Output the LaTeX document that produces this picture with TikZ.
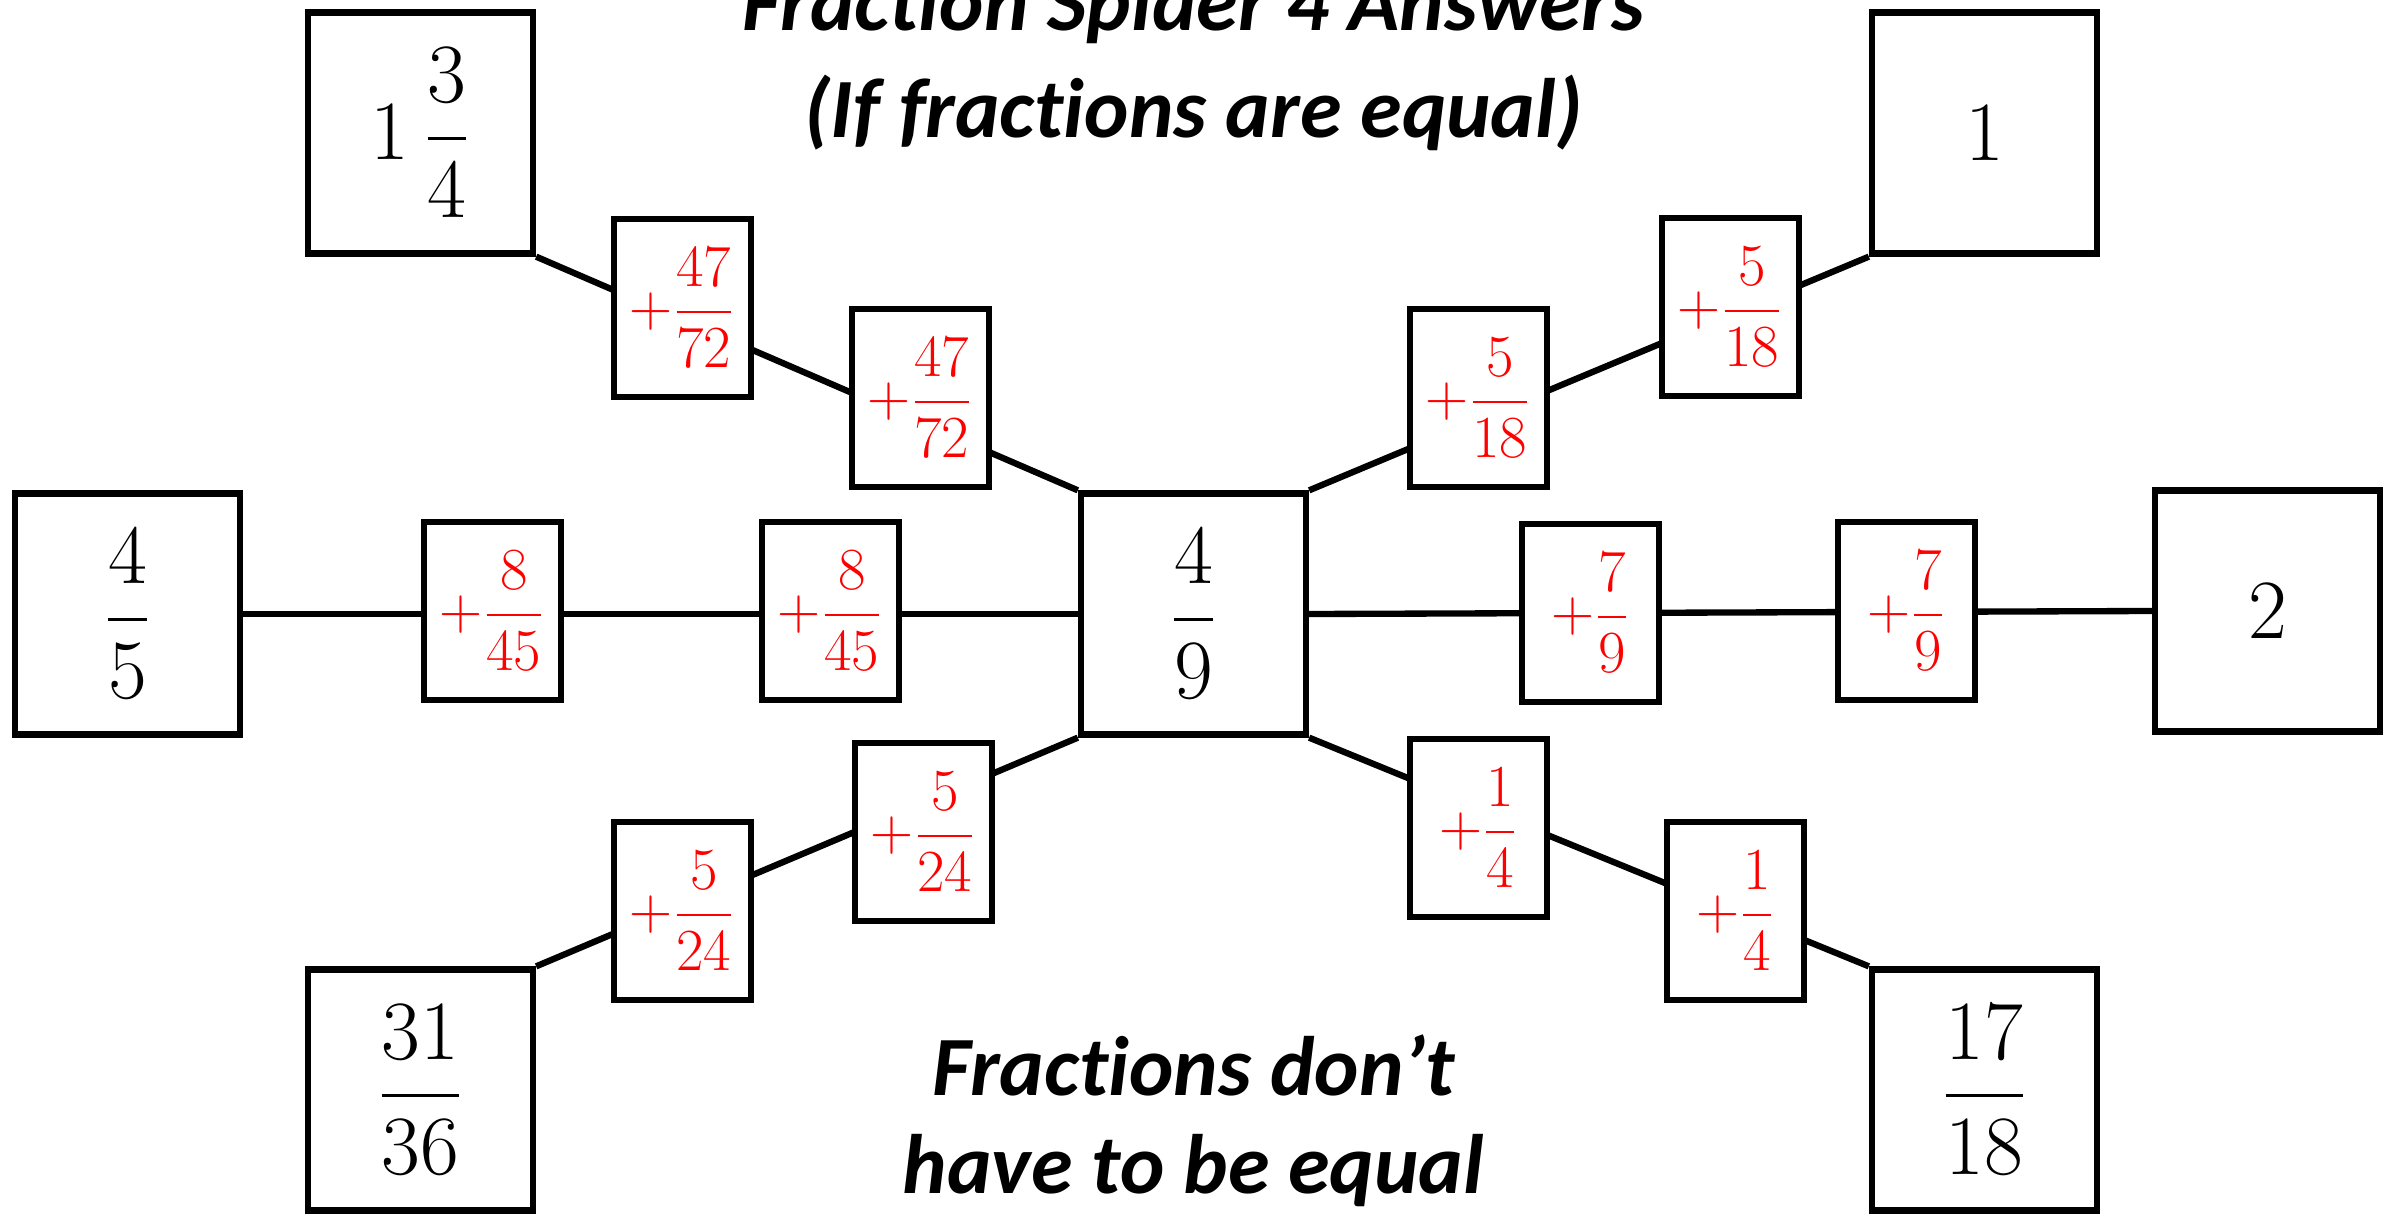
\RequirePackage{fix-cm}
\documentclass[tikz,border=0pt]{standalone}
\usepackage{amsmath}
\usepackage{fontspec}
\setmainfont{Carlito}[Ligatures=NoCommon]
\usetikzlibrary{positioning, backgrounds}
\definecolor{opred}{RGB}{255, 0, 0}

\begin{document}
\begin{tikzpicture}[
    bigbox/.style={
        rectangle, draw=black, fill=white, line width=1.8pt,
        minimum width=2.25cm, minimum height=2.41cm, inner sep=0pt,
        font=\fontsize{24}{28}\selectfont
    },
    opbox/.style={
        rectangle, draw=black, fill=white, line width=1.8pt,
        minimum width=1.37cm, minimum height=1.78cm, inner sep=0pt,
        text=opred, font=\fontsize{17}{20}\selectfont
    },
    leg/.style={draw=black, line width=1.8pt},
    heading/.style={anchor=base, font=\fontsize{24}{29}\selectfont\bfseries\itshape}
]

    % page frame (title is cut at the top edge)
    \clip (-11.935, -6.01) rectangle (12.055, 6.14);

    % Headings
    \node[heading] (title) at (0, 5.83) {Fraction Spider 4 Answers};
    \node[heading] (subtitle) at (0, 4.76) {(If fractions are equal)};
    \node[heading] (note) at (0, -4.81) {Fractions don’t};
    \node[heading] (note2) at (0, -5.79) {have to be equal};

    % Body of the spider
    \node[bigbox] (body) at (0, 0) {$\dfrac{4}{9}$};

    % Feet
    \node[bigbox] (foot_tl) at (-7.73, 4.81) {$1\,\dfrac{3}{4}$};
    \node[bigbox] (foot_tr) at (7.91, 4.81) {$1$};
    \node[bigbox] (foot_l) at (-10.66, 0) {$\dfrac{4}{5}$};
    \node[bigbox] (foot_r) at (10.74, 0.03) {$2$};
    \node[bigbox] (foot_bl) at (-7.73, -4.76) {$\dfrac{31}{36}$};
    \node[bigbox] (foot_br) at (7.91, -4.76) {$\dfrac{17}{18}$};

    % Steps along each leg
    \node[opbox] (tl_out) at (-5.11, 3.06) {$+\dfrac{47}{72}$};
    \node[opbox] (tl_in) at (-2.73, 2.16) {$+\dfrac{47}{72}$};

    \node[opbox] (tr_in) at (2.85, 2.16) {$+\dfrac{5}{18}$};
    \node[opbox] (tr_out) at (5.37, 3.07) {$+\dfrac{5}{18}$};

    \node[opbox] (l_out) at (-7.01, 0.03) {$+\dfrac{8}{45}$};
    \node[opbox] (l_in) at (-3.63, 0.03) {$+\dfrac{8}{45}$};

    \node[opbox] (r_in) at (3.97, 0.01) {$+\dfrac{7}{9}$};
    \node[opbox] (r_out) at (7.13, 0.03) {$+\dfrac{7}{9}$};

    \node[opbox] (bl_in) at (-2.70, -2.18) {$+\dfrac{5}{24}$};
    \node[opbox] (bl_out) at (-5.11, -2.97) {$+\dfrac{5}{24}$};

    \node[opbox] (br_in) at (2.85, -2.14) {$+\dfrac{1}{4}$};
    \node[opbox] (br_out) at (5.42, -2.97) {$+\dfrac{1}{4}$};

    % Legs run behind the steps
    \begin{scope}[on background layer]
        \draw[leg] (foot_tl.south east) -- (body.north west);
        \draw[leg] (body.north east) -- (foot_tr.south west);
        \draw[leg] (foot_l.east) -- (body.west);
        \draw[leg] (body.east) -- (foot_r.west);
        \draw[leg] (foot_bl.north east) -- (body.south west);
        \draw[leg] (body.south east) -- (foot_br.north west);
    \end{scope}

\end{tikzpicture}
\end{document}
